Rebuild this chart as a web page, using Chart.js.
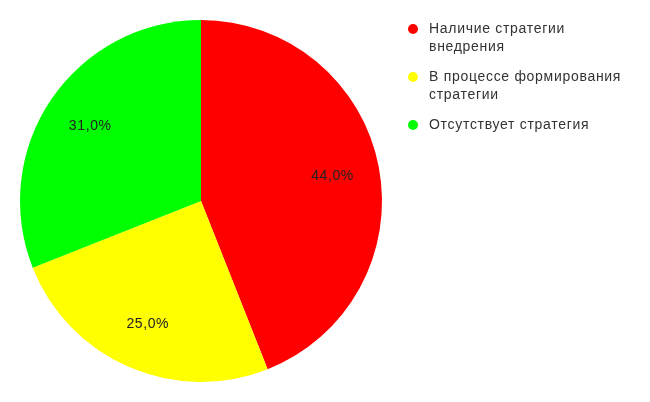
<!DOCTYPE html>
<html>
<head>
<meta charset="utf-8">
<script src="https://cdn.jsdelivr.net/npm/chart.js@4"></script>
<style>
  html, body { margin: 0; padding: 0; background: #fff; }
  #wrap { width: 650px; height: 402px; }
</style>
</head>
<body>
<div id="wrap"><canvas id="pieChart" width="650" height="402"></canvas></div>
<script>
const categories = [
  ['Наличие стратегии', 'внедрения'],
  ['В процессе формирования', 'стратегии'],
  ['Отсутствует стратегия']
];
const shares = [44.0, 25.0, 31.0];
const sliceColors = ['#ff0000', '#ffff00', '#00ff00'];

const textFont = '14px "Liberation Sans", Arial, sans-serif';

// percent labels inside slices
const sliceLabels = {
  id: 'sliceLabels',
  afterDatasetsDraw(chart) {
    const ctx = chart.ctx;
    const meta = chart.getDatasetMeta(0);
    ctx.save();
    ctx.font = textFont;
    ctx.letterSpacing = '0.6px';
    ctx.fillStyle = '#222';
    ctx.textAlign = 'center';
    ctx.textBaseline = 'middle';
    meta.data.forEach((arc, i) => {
      const p = arc.getProps(['x', 'y', 'startAngle', 'endAngle', 'outerRadius'], true);
      const mid = (p.startAngle + p.endAngle) / 2;
      const r = p.outerRadius * 0.74;
      const txt = shares[i].toFixed(1).replace('.', ',') + '%';
      ctx.fillText(txt, p.x + Math.cos(mid) * r, p.y + Math.sin(mid) * r);
    });
    ctx.restore();
  }
};

// legend at the right, with wrapped lines
const sideLegend = {
  id: 'sideLegend',
  afterDraw(chart) {
    const ctx = chart.ctx;
    ctx.save();
    ctx.font = textFont;
    ctx.letterSpacing = '0.7px';
    ctx.textBaseline = 'middle';
    let y = 29;
    categories.forEach((lines, i) => {
      ctx.fillStyle = sliceColors[i];
      ctx.beginPath();
      ctx.arc(413, y, 5, 0, Math.PI * 2);
      ctx.fill();
      ctx.fillStyle = '#333';
      lines.forEach((line, j) => {
        ctx.fillText(line, 429, y + j * 18);
      });
      y += lines.length * 18 + 12;
    });
    ctx.restore();
  }
};

new Chart(document.getElementById('pieChart'), {
  type: 'pie',
  data: {
    labels: categories.map(l => l.join(' ')),
    datasets: [{
      data: shares,
      backgroundColor: sliceColors,
      borderWidth: 0
    }]
  },
  options: {
    responsive: false,
    animation: false,
    layout: { padding: { left: 20, top: 20, bottom: 20, right: 268 } },
    plugins: {
      legend: { display: false },
      tooltip: { enabled: false }
    }
  },
  plugins: [sliceLabels, sideLegend]
});
</script>
</body>
</html>
